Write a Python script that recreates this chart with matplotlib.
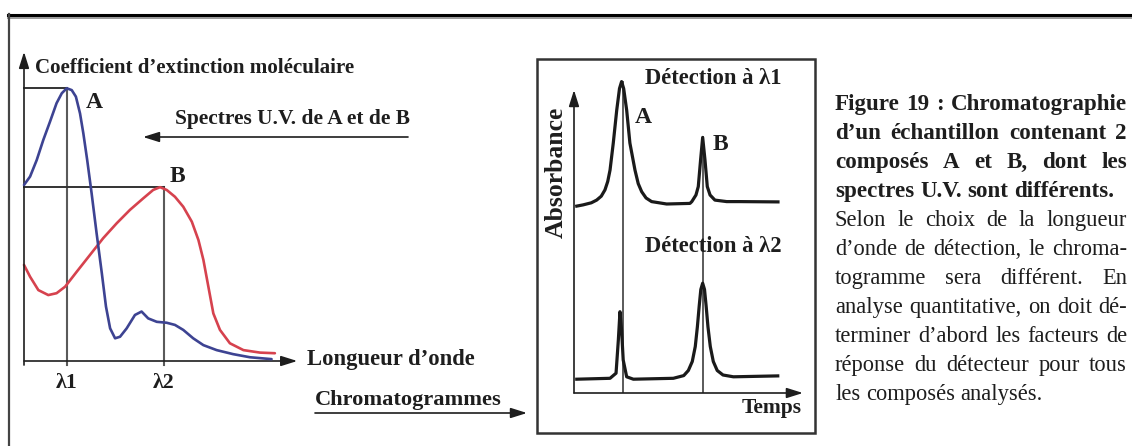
import numpy as np
import matplotlib
matplotlib.use("Agg")
import matplotlib.pyplot as plt
from matplotlib.lines import Line2D
from matplotlib.patches import Rectangle, FancyArrowPatch

W, H = 1132, 446

# --- UV spectra of A and B (arbitrary wavelength units, extinction 0-100) ---
wl_A = [0, 2.2, 4.6, 7.0, 9.4, 11.8, 13.7, 15.5, 17.3, 18.8, 20.3, 21.5, 22.9,
        24.5, 26.3, 28.2, 29.7, 31.2, 33.0, 34.8, 37.2, 40.2, 42.6, 45.0, 48.1,
        51.7, 54.7, 57.7, 61.3, 65.0, 69.8, 75.8, 81.9, 89.7]
eps_A = [56.6, 59.3, 64.6, 71.1, 76.9, 82.9, 86.1, 87.7, 87.1, 85.0, 79.6, 73.2, 64.6,
         53.9, 41.1, 28.2, 17.5, 10.5, 7.3, 7.8, 10.5, 14.8, 15.9, 13.7, 12.6,
         12.3, 11.6, 10.0, 7.3, 5.1, 3.5, 2.2, 1.2, 0.6]
wl_B = [0, 2.2, 5.2, 8.8, 11.8, 14.9, 19.1, 23.9, 28.7, 33.6, 38.4, 43.2, 46.8,
        49.3, 51.7, 54.7, 57.7, 60.8, 63.2, 65.0, 66.8, 68.6, 71.0, 74.6, 79.5,
        85.5, 90.9]
eps_B = [30.9, 27.1, 22.8, 21.2, 21.8, 23.9, 28.7, 34.1, 39.5, 44.3, 48.6, 52.3, 55.0,
         55.9, 55.0, 52.8, 49.6, 44.8, 38.9, 32.5, 23.9, 15.3, 10.0, 5.7, 3.5,
         2.7, 2.5]
lambda_pos = [15.6, 50.7]
lambda_labels = ["λ1", "λ2"]

# --- chromatograms (time 0-100, absorbance) ---
t_l1 = [1.2, 3.9, 7.5, 9.8, 11.8, 13.4, 14.6, 15.6, 17.0, 18.5, 19.7, 20.6, 21.5,
        22.8, 24.2, 26.4, 27.8, 29.3, 31.2, 33.6, 40.1, 50.2, 51.0, 52.8, 53.8,
        54.8, 55.7, 56.7, 57.7, 58.9, 61.0, 66.1, 71.9, 88.3]
abs_l1 = [62.3, 62.7, 63.4, 64.3, 65.6, 67.7, 70.5, 74.3, 83.3, 94.3, 101.5, 103.8, 101.5,
          94.3, 83.3, 74.3, 69.8, 67.1, 65.0, 63.8, 63.0, 63.2, 63.8, 66.0, 68.8,
          77.7, 85.2, 77.7, 68.8, 66.0, 64.3, 63.8, 63.8, 63.7]
t_l2 = [1.2, 15.6, 18.2, 19.2, 19.9, 20.6, 21.3, 22.8, 25.7, 43.0, 47.5, 49.5,
        51.2, 52.5, 53.4, 54.2, 54.9, 55.7, 56.5, 57.2, 58.0, 59.0, 60.3, 62.0,
        64.5, 69.0, 88.2]
abs_l2 = [4.6, 4.9, 6.6, 17.7, 27.1, 21.0, 11.0, 5.4, 4.6, 4.9, 5.8, 7.5,
          10.5, 15.5, 22.0, 29.0, 34.5, 36.6, 34.5, 29.0, 22.0, 15.5, 10.5, 7.5,
          6.0, 5.4, 5.7]
peak_times = [21.0, 55.8]

# --- caption ---
caption_lines = [
    "Figure 19 : Chromatographie",
    "d\u2019un échantillon contenant 2",
    "composés A et  B, dont les",
    "spectres U.V. sont différents.",
    "Selon le choix de la longueur",
    "d\u2019onde de détection, le chroma-",
    "togramme  sera  différent. En",
    "analyse quantitative, on doit dé-",
    "terminer d\u2019abord les facteurs de",
    "réponse du détecteur pour tous",
    "les composés analysés.",
]
caption_bold = [True, True, True, True, False, False, False, False, False, False, False]
caption_justify = [True, True, True, False, True, True, True, True, True, True, False]

SERIF = "Liberation Serif"
INK = "#1e1e1e"
BLUE = "#3d4392"
RED = "#d6424e"
GUIDE = "#5a5a5a"

fig = plt.figure(figsize=(W / 100, H / 100), dpi=100)
renderer = fig.canvas.get_renderer()


def px(x, y):
    return x / W, 1 - y / H


def fit_size(s, width, weight="bold"):
    # font size that gives the text the width
    t = fig.text(0, 0, s, fontsize=12, fontweight=weight, family=SERIF)
    w = t.get_window_extent(renderer).width
    t.remove()
    return 12 * width / w


def fit_text(x0, x1, y, s, weight="bold"):
    return fig.text(*px(x0, y), s, fontsize=fit_size(s, x1 - x0, weight),
                    fontweight=weight, family=SERIF, color=INK, va="baseline")


def text_width(s, size, weight):
    t = fig.text(0, 0, s, fontsize=size, fontweight=weight, family=SERIF)
    w = t.get_window_extent(renderer).width
    t.remove()
    return w


arrow_kw = dict(arrowstyle="-|>,head_length=0.7,head_width=0.22", color=INK,
                lw=1.2, mutation_scale=14, shrinkA=0, shrinkB=0)

# outer frame (top rule and left rule)
fig.add_artist(Line2D([8 / W, 1], [1 - 14.5 / H] * 2, color="black", lw=2.2))
fig.add_artist(Line2D([8 / W, 1], [1 - 17.5 / H] * 2, color="#9a9a9a", lw=1.4))
fig.add_artist(Line2D([9 / W] * 2, [0, 1 - 14 / H], color="#444444", lw=1.6))

# ---------------- UV spectra ----------------
ax1 = fig.add_axes([24 / W, 1 - 361 / H, 276 / W, 311 / H])
ax1.set_xlim(0, 100)
ax1.set_ylim(0, 100)
ax1.axis("off")

ax1.annotate("", xy=(99, 0), xytext=(0, 0), arrowprops=arrow_kw, annotation_clip=False)
ax1.annotate("", xy=(0, 99.4), xytext=(0, -1.3), arrowprops=arrow_kw, annotation_clip=False)

peak_heights = [max(eps_A), max(eps_B)]
for lp, ph in zip(lambda_pos, peak_heights):
    ax1.plot([lp, lp], [-1.3, ph], color=GUIDE, lw=1.5, clip_on=False, zorder=1)
    ax1.plot([0, lp], [ph, ph], color="#333333", lw=1.4, clip_on=False, zorder=1)

ax1.plot(wl_B, eps_B, color=RED, lw=1.9, clip_on=False, zorder=2,
         solid_capstyle="round", solid_joinstyle="round")
ax1.plot(wl_A, eps_A, color=BLUE, lw=1.9, clip_on=False, zorder=3,
         solid_capstyle="round", solid_joinstyle="round")

lam_size = fit_size(lambda_labels[0], 22)
for lp, lab in zip(lambda_pos, lambda_labels):
    ax1.text(lp, -8.7, lab, fontsize=lam_size, fontweight="bold", family=SERIF,
             color=INK, ha="center", va="baseline")

letter_size = fit_size("A", 17)
for x, y, s in [(86, 108, "A"), (170, 182, "B"), (635, 123, "A"), (713, 150, "B")]:
    fig.text(*px(x, y), s, fontsize=letter_size, fontweight="bold", family=SERIF,
             color=INK, va="baseline")

fit_text(35, 355, 73, "Coefficient d\u2019extinction moléculaire")
fit_text(175, 408, 124, "Spectres U.V. de A et de B")
fit_text(307, 473, 365, "Longueur d\u2019onde")
fit_text(315, 500, 405, "Chromatogrammes")

fig.add_artist(FancyArrowPatch(px(408, 137), px(143, 137),
                               transform=fig.transFigure, **arrow_kw))
fig.add_artist(FancyArrowPatch(px(315, 413), px(527, 413),
                               transform=fig.transFigure, **arrow_kw))

# ---------------- chromatograms ----------------
fig.add_artist(Rectangle(px(537, 433), 278 / W, 374 / H, transform=fig.transFigure,
                         fill=False, ec="#333333", lw=1.8))

ax2 = fig.add_axes([574 / W, 1 - 393 / H, 231 / W, 330 / H])
ax2.set_xlim(0, 100)
ax2.set_ylim(0, 110)
ax2.axis("off")

ax2.annotate("", xy=(99.1, 0), xytext=(0, 0), arrowprops=arrow_kw, annotation_clip=False)
ax2.annotate("", xy=(0, 101), xytext=(0, 0), arrowprops=arrow_kw, annotation_clip=False)

t1 = np.array(t_l1)
a1 = np.array(abs_l1)
for pt in peak_times:
    near = np.abs(t1 - pt) < 5
    ax2.plot([pt, pt], [0, a1[near].max()], color=GUIDE, lw=1.4, zorder=1)

ax2.plot(t_l1, abs_l1, color="#1a1a1a", lw=2.3, zorder=2, solid_joinstyle="round")
ax2.plot(t_l2, abs_l2, color="#1a1a1a", lw=2.3, zorder=2, solid_joinstyle="round")

det_size = fit_size("Détection à λ1", 137)
fig.text(*px(645, 84), "Détection à λ1", fontsize=det_size, fontweight="bold",
         family=SERIF, color=INK, va="baseline")
fig.text(*px(645, 252), "Détection à λ2", fontsize=det_size, fontweight="bold",
         family=SERIF, color=INK, va="baseline")
fit_text(742, 802, 413, "Temps")
fig.text(*px(563, 172), "Absorbance", fontsize=fit_size("Absorbance", 130),
         fontweight="bold", family=SERIF, color=INK, rotation=90,
         rotation_mode="anchor", ha="center", va="baseline")

# ---------------- caption, justified ----------------
x_left, x_right = 835, 1127
base0, step = 110, 29.0

size_bold = fit_size(caption_lines[3], 1112 - x_left, "bold")
size_reg = fit_size(caption_lines[10], 1042 - x_left, "normal")

for i, line in enumerate(caption_lines):
    y = base0 + i * step
    weight = "bold" if caption_bold[i] else "normal"
    size = size_bold if caption_bold[i] else size_reg
    words = line.split()
    texts = [fig.text(0, 0, w, fontsize=size, fontweight=weight, family=SERIF,
                      color=INK, va="baseline") for w in words]
    widths = [t.get_window_extent(renderer).width for t in texts]
    if caption_justify[i] and len(words) > 1:
        gap = (x_right - x_left - sum(widths)) / (len(words) - 1)
    else:
        gap = text_width("a a", size, weight) - text_width("aa", size, weight)
    x = x_left
    for t, w in zip(texts, widths):
        t.set_position(px(x, y))
        x += w + gap

fig.savefig("out.png", dpi=100)
